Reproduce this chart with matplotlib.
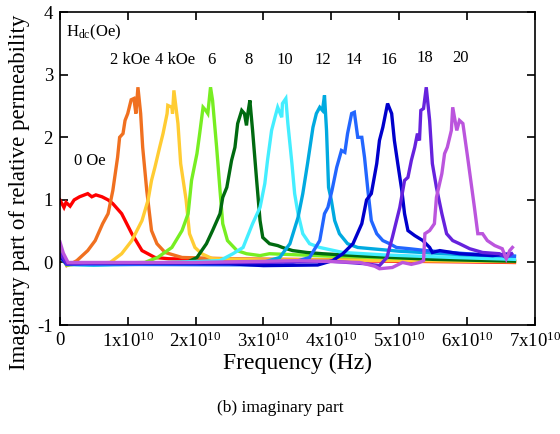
import matplotlib
matplotlib.use("Agg")
import matplotlib.pyplot as plt
import numpy as np

plt.rcParams["font.family"] = ["Liberation Serif", "DejaVu Serif"]
plt.rcParams["mathtext.fontset"] = "custom"
plt.rcParams["mathtext.rm"] = "Liberation Serif"
plt.rcParams["mathtext.it"] = "Liberation Serif:italic"

# frequency in units of 1e10 Hz
f_0 = [0, 0.06, 0.09, 0.15, 0.21, 0.29, 0.41, 0.47, 0.53, 0.62, 0.71, 0.78, 0.91, 1.06, 1.21, 1.40, 1.6, 2.0, 3.0, 4.0, 5.0, 6.0, 6.7]
mu_0 = [1.0, 0.88, 0.96, 0.9, 1.0, 1.05, 1.1, 1.05, 1.08, 1.05, 1.0, 0.94, 0.78, 0.46, 0.19, 0.08, 0.06, 0.05, 0.04, 0.03, 0.02, 0.01, 0.0]

f_2 = [0, 0.1, 0.2, 0.25, 0.41, 0.52, 0.63, 0.71, 0.78, 0.85, 0.88, 0.93, 0.96, 1.0, 1.05, 1.09, 1.12, 1.15, 1.19, 1.22, 1.28, 1.35, 1.43, 1.55, 1.80, 2.5, 3.5, 4.5, 5.5, 6.7]
mu_2 = [0.15, -0.05, 0.0, 0.03, 0.19, 0.35, 0.62, 0.78, 1.15, 1.68, 2.0, 2.06, 2.27, 2.38, 2.6, 2.62, 2.38, 2.8, 2.38, 1.84, 1.15, 0.51, 0.3, 0.16, 0.08, 0.06, 0.05, 0.04, 0.03, 0.02]

f_4 = [0, 0.1, 0.3, 0.74, 0.91, 1.06, 1.21, 1.30, 1.35, 1.40, 1.47, 1.52, 1.58, 1.59, 1.65, 1.66, 1.68, 1.74, 1.78, 1.86, 1.91, 1.99, 2.09, 2.25, 3.0, 4.0, 5.0, 6.0, 6.7]
mu_4 = [0.2, -0.04, -0.02, 0.0, 0.14, 0.35, 0.67, 1.0, 1.31, 1.52, 1.84, 2.06, 2.38, 2.51, 2.48, 2.38, 2.75, 2.22, 1.58, 1.0, 0.46, 0.24, 0.14, 0.06, 0.04, 0.04, 0.03, 0.02, 0.01]

f_6 = [0, 0.1, 0.3, 1.25, 1.44, 1.65, 1.80, 1.89, 1.94, 2.02, 2.06, 2.11, 2.15, 2.18, 2.22, 2.25, 2.31, 2.36, 2.40, 2.47, 2.61, 2.75, 2.95, 3.09, 4.0, 5.0, 6.0, 6.7]
mu_6 = [0.18, -0.04, -0.02, 0.0, 0.08, 0.24, 0.51, 0.78, 1.31, 1.74, 2.06, 2.48, 2.43, 2.38, 2.8, 2.59, 1.84, 1.15, 0.62, 0.35, 0.19, 0.14, 0.11, 0.14, 0.1, 0.07, 0.05, 0.04]

f_8 = [0, 0.1, 0.5, 1.87, 2.02, 2.16, 2.25, 2.36, 2.40, 2.46, 2.53, 2.58, 2.62, 2.68, 2.72, 2.75, 2.77, 2.80, 2.84, 2.90, 2.95, 2.99, 3.09, 3.21, 3.28, 3.43, 3.64, 3.87, 4.5, 5.5, 6.7]
mu_8 = [0.12, -0.03, -0.03, 0.0, 0.08, 0.3, 0.51, 0.78, 1.04, 1.2, 1.63, 1.84, 2.22, 2.43, 2.38, 2.19, 2.38, 2.59, 2.11, 1.31, 0.67, 0.4, 0.3, 0.27, 0.24, 0.19, 0.16, 0.14, 0.1, 0.05, 0.02]

f_10 = [0, 0.1, 0.5, 2.36, 2.55, 2.70, 2.84, 2.95, 3.02, 3.06, 3.12, 3.17, 3.21, 3.27, 3.28, 3.33, 3.36, 3.42, 3.46, 3.51, 3.58, 3.68, 3.83, 4.17, 4.8, 5.8, 6.7]
mu_10 = [0.1, -0.03, -0.04, 0.03, 0.14, 0.24, 0.62, 0.88, 1.26, 1.63, 2.11, 2.32, 2.48, 2.32, 2.54, 2.62, 2.22, 1.58, 1.1, 0.78, 0.46, 0.3, 0.24, 0.16, 0.12, 0.08, 0.05]

f_12 = [0, 0.1, 0.5, 2.99, 3.24, 3.39, 3.51, 3.58, 3.65, 3.73, 3.78, 3.83, 3.87, 3.90, 3.93, 3.96, 4.0, 4.05, 4.12, 4.24, 4.39, 4.59, 5.0, 6.0, 6.7]
mu_12 = [0.1, -0.03, -0.04, 0.0, 0.08, 0.3, 0.72, 1.1, 1.58, 2.16, 2.38, 2.48, 2.43, 2.67, 2.11, 1.2, 1.0, 0.67, 0.46, 0.3, 0.24, 0.22, 0.18, 0.12, 0.1]

f_14 = [0, 0.1, 0.5, 3.3, 3.68, 3.83, 3.90, 3.95, 4.01, 4.08, 4.15, 4.20, 4.24, 4.30, 4.34, 4.39, 4.45, 4.49, 4.54, 4.59, 4.67, 4.76, 4.86, 4.96, 5.15, 5.40, 6.0, 6.7]
mu_14 = [0.1, -0.03, -0.03, -0.04, 0.08, 0.35, 0.78, 0.88, 1.15, 1.52, 1.79, 1.76, 2.06, 2.38, 2.4, 2.0, 2.0, 1.68, 1.15, 0.67, 0.46, 0.35, 0.3, 0.24, 0.22, 0.19, 0.14, 0.1]

f_16 = [0, 0.1, 0.5, 2.5, 3.0, 3.8, 4.02, 4.17, 4.32, 4.45, 4.52, 4.59, 4.67, 4.71, 4.76, 4.83, 4.89, 4.93, 4.98, 5.04, 5.08, 5.13, 5.23, 5.35, 5.45, 5.49, 5.60, 5.89, 6.38, 6.63]
mu_16 = [0.1, -0.02, -0.01, -0.02, -0.05, -0.04, 0.03, 0.14, 0.3, 0.62, 1.0, 1.1, 1.58, 1.95, 2.16, 2.54, 2.38, 1.95, 1.58, 1.15, 0.78, 0.51, 0.43, 0.35, 0.24, 0.16, 0.19, 0.14, 0.11, 0.14]

f_18 = [0, 0.1, 0.5, 3.0, 4.0, 4.5, 4.71, 4.82, 4.90, 5.01, 5.08, 5.13, 5.18, 5.23, 5.27, 5.30, 5.32, 5.36, 5.40, 5.45, 5.49, 5.55, 5.63, 5.70, 5.79, 5.89, 6.04, 6.23, 6.48, 6.58, 6.66]
mu_18 = [0.15, -0.02, -0.01, 0.0, 0.02, -0.02, -0.05, 0.08, 0.4, 0.88, 1.31, 1.36, 1.63, 1.84, 2.06, 1.95, 2.43, 2.46, 2.8, 2.27, 1.58, 1.2, 0.78, 0.46, 0.35, 0.3, 0.22, 0.16, 0.14, 0.08, 0.14]

f_20 = [0, 0.05, 0.12, 0.5, 2.0, 3.53, 4.42, 4.64, 4.71, 4.90, 5.05, 5.18, 5.30, 5.36, 5.38, 5.45, 5.52, 5.55, 5.63, 5.67, 5.71, 5.77, 5.79, 5.85, 5.89, 5.94, 6.01, 6.07, 6.11, 6.16, 6.23, 6.30, 6.41, 6.52, 6.58, 6.63, 6.67]
mu_20 = [0.33, 0.15, 0.0, 0.0, 0.0, 0.03, 0.0, -0.06, -0.1, -0.08, 0.0, -0.03, 0.0, 0.03, 0.46, 0.51, 0.62, 1.04, 1.42, 1.74, 1.84, 2.11, 2.48, 2.11, 2.27, 2.22, 1.68, 1.2, 0.88, 0.46, 0.46, 0.35, 0.27, 0.22, 0.06, 0.19, 0.24]

freqs = [f_0, f_2, f_4, f_6, f_8, f_10, f_12, f_14, f_16, f_18, f_20]
mus = [mu_0, mu_2, mu_4, mu_6, mu_8, mu_10, mu_12, mu_14, mu_16, mu_18, mu_20]
colors = ["#ff0000", "#f07020", "#ffcc33", "#77ee22", "#006a10", "#44eeff",
          "#00aae0", "#2266ff", "#0000cc", "#6622dd", "#bb55dd"]

# field labels above the peaks
labels = ["2 kOe", "4 kOe", "6", "8", "10", "12", "14", "16", "18", "20"]
label_f = [1.03, 1.69, 2.24, 2.78, 3.31, 3.87, 4.33, 4.85, 5.38, 5.91]
label_y = [3.23, 3.23, 3.23, 3.23, 3.23, 3.23, 3.23, 3.23, 3.26, 3.26]

fig = plt.figure(figsize=(5.6, 4.34), dpi=100)
ax = fig.add_axes([0.107, 0.251, 0.848, 0.721])

for f, m, c in zip(freqs, mus, colors):
    ax.plot(np.array(f) * 1e10, m, color=c, lw=2.4, solid_joinstyle="miter")

ax.text(0.09e10, 3.68, r"H$_{\rm dc}$(Oe)", fontsize=12, va="center", ha="left")
ax.text(0.44e10, 1.62, "0 Oe", fontsize=12, ha="center", va="center")
for lab, x, y in zip(labels, label_f, label_y):
    ax.text(x * 1e10, y, lab, fontsize=12, ha="center", va="center")

ax.set_xlim(0, 7e10)
ax.set_ylim(-1, 4)
xt = np.arange(0, 8) * 1e10
ax.set_xticks(xt)
ax.set_xticklabels(["0"] + [r"%dx10$^{10}$" % i for i in range(1, 8)])
ax.set_yticks([-1, 0, 1, 2, 3, 4])
ax.set_yticklabels(["-1", "0", "1", "2", "3", "4"])
ax.tick_params(direction="in", top=True, right=True, length=6, width=1.2, labelsize=13.5, pad=5)
for s in ax.spines.values():
    s.set_linewidth(1.2)

ax.set_xlabel("Frequency (Hz)", fontsize=17, labelpad=1)
# the y label sits lower than the axes centre in the original
fig.text(0.035, 0.557, "Imaginary part of relative permeability", fontsize=16.5,
         rotation=90, ha="center", va="center")

fig.text(0.5, 0.06, "(b) imaginary part", ha="center", va="center", fontsize=12.5)

plt.savefig("out.png", dpi=100)
